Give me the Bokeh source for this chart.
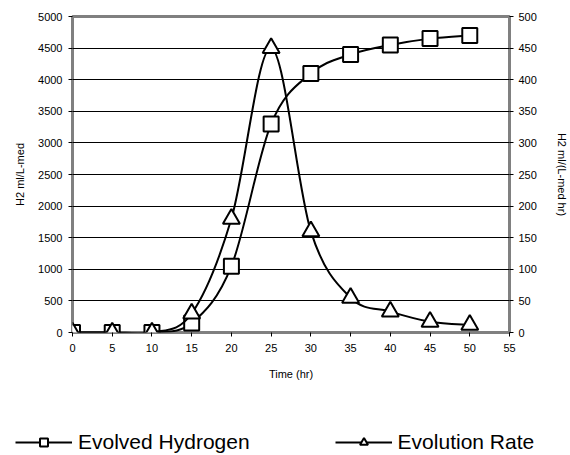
from bokeh.plotting import figure
from bokeh.models import (Range1d, LinearAxis, FixedTicker, Legend, LegendItem,
                          ColumnDataSource)
from bokeh.embed import file_html
from bokeh.resources import INLINE

# Data
time_hr = [0, 5, 10, 15, 20, 25, 30, 35, 40, 45, 50]
evolved_h2 = [0, 0, 0, 150, 1050, 3300, 4100, 4400, 4550, 4650, 4700]   # ml/L-med
evolution_rate = [0, 0, 0, 30, 180, 450, 160, 55, 33, 17, 12]         # ml/(L-med hr)

x_ticks = list(range(0, 56, 5))
left_ticks = list(range(0, 5001, 500))
right_ticks = list(range(0, 501, 50))

FONT = "Liberation Sans"


def smooth_segments(xs, ys):
    """Cubic Bezier control points for a smoothed line through the points."""
    n = len(xs)
    d = dict(x0=[], y0=[], x1=[], y1=[], cx0=[], cy0=[], cx1=[], cy1=[])
    for i in range(n - 1):
        a = max(i - 1, 0)
        b = min(i + 2, n - 1)
        d["x0"].append(xs[i]); d["y0"].append(ys[i])
        d["x1"].append(xs[i + 1]); d["y1"].append(ys[i + 1])
        d["cx0"].append(xs[i] + (xs[i + 1] - xs[a]) / 6)
        d["cy0"].append(ys[i] + (ys[i + 1] - ys[a]) / 6)
        d["cx1"].append(xs[i + 1] - (xs[b] - xs[i]) / 6)
        d["cy1"].append(ys[i + 1] - (ys[b] - ys[i]) / 6)
    return ColumnDataSource(d)


p = figure(width=570, height=395, output_backend="svg", toolbar_location=None,
           x_range=Range1d(0, 55), y_range=Range1d(0, 5000),
           min_border_left=72, min_border_right=60, min_border_top=16,
           min_border_bottom=63)
p.extra_y_ranges = {"rate": Range1d(0, 500)}

p.background_fill_color = "white"
p.border_fill_color = "white"
p.outline_line_color = "#808080"
p.outline_line_width = 3

p.xgrid.visible = False
p.ygrid.ticker = FixedTicker(ticks=left_ticks)
p.ygrid.grid_line_color = "black"
p.ygrid.grid_line_width = 1
p.ygrid.bounds = (500, 4500)

def style_axis(ax):
    ax.axis_line_color = None
    ax.major_tick_line_color = "black"
    ax.major_tick_out = 4
    ax.major_tick_in = 0
    ax.minor_tick_line_color = None
    ax.major_label_text_font = FONT
    ax.major_label_text_font_size = "11px"
    ax.major_label_text_color = "black"
    ax.axis_label_text_font = FONT
    ax.axis_label_text_font_size = "11px"
    ax.axis_label_text_font_style = "normal"
    ax.axis_label_text_color = "black"

xa = p.xaxis[0]
xa.ticker = FixedTicker(ticks=x_ticks)
xa.axis_label = "Time (hr)"
style_axis(xa)
xa.major_label_standoff = 7
xa.axis_label_standoff = 13

ya = p.yaxis[0]
ya.ticker = FixedTicker(ticks=left_ticks)
ya.axis_label = "H2 ml/L-med"
style_axis(ya)
ya.major_label_standoff = 6
ya.axis_label_standoff = 9

ra = LinearAxis(y_range_name="rate", ticker=FixedTicker(ticks=right_ticks),
                axis_label="H2 ml/(L-med hr)")
style_axis(ra)
ra.major_label_standoff = 5
ra.axis_label_standoff = 16
p.add_layout(ra, "right")

# Evolved hydrogen (left axis)
p.bezier(x0="x0", y0="y0", x1="x1", y1="y1", cx0="cx0", cy0="cy0",
         cx1="cx1", cy1="cy1", source=smooth_segments(time_hr, evolved_h2),
         line_color="black", line_width=2)
p.scatter(time_hr, evolved_h2, marker="square", size=15,
          fill_color="white", line_color="black", line_width=2)

# Evolution rate (right axis)
p.bezier(x0="x0", y0="y0", x1="x1", y1="y1", cx0="cx0", cy0="cy0",
         cx1="cx1", cy1="cy1", source=smooth_segments(time_hr, evolution_rate),
         line_color="black", line_width=2, y_range_name="rate")
p.scatter(time_hr, evolution_rate, marker="triangle", size=17,
          fill_color="white", line_color="black", line_width=2,
          y_range_name="rate")

# Legend strip underneath the chart; its series sit outside the visible range
leg = figure(width=570, height=60, output_backend="svg", toolbar_location=None,
             x_range=Range1d(-100, -90), y_range=Range1d(-100, -90),
             x_axis_type=None, y_axis_type=None, min_border=0)
leg.outline_line_color = None
leg.grid.visible = False
leg.background_fill_color = "white"
leg.border_fill_color = "white"

h2_line = leg.line(time_hr, evolved_h2, line_color="black", line_width=2)
h2_mark = leg.scatter(time_hr, evolved_h2, marker="square", size=10,
                      fill_color="white", line_color="black", line_width=2)
rate_line = leg.line(time_hr, evolution_rate, line_color="black", line_width=2)
rate_mark = leg.scatter(time_hr, evolution_rate, marker="triangle", size=15,
                        fill_color="white", line_color="black", line_width=2)

legend = Legend(items=[LegendItem(label="Evolved Hydrogen", renderers=[h2_line, h2_mark]),
                       LegendItem(label="Evolution Rate", renderers=[rate_line, rate_mark])],
                location=(15, 1), orientation="horizontal",
                border_line_color=None, background_fill_alpha=0,
                label_text_font=FONT, label_text_font_size="21px",
                label_text_color="black",
                glyph_width=57, glyph_height=20, label_standoff=6,
                spacing=85, padding=0, margin=0)
leg.add_layout(legend, "center")

open("out.html", "w").write(file_html([p, leg], INLINE))
